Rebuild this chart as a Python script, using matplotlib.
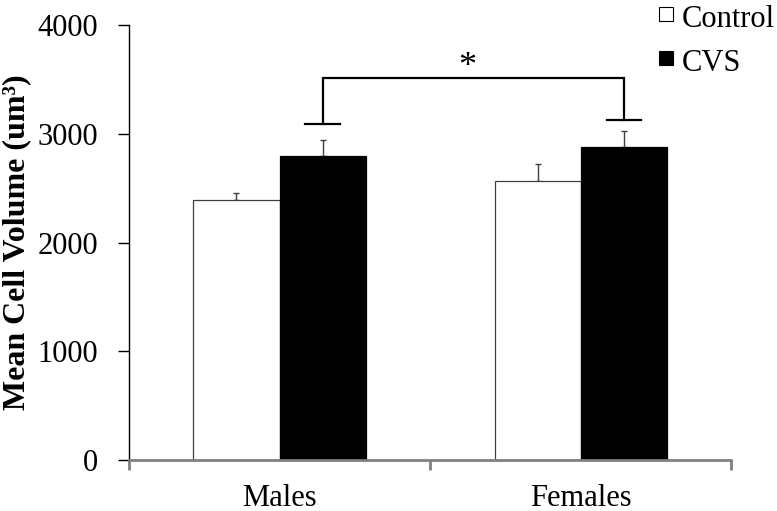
import matplotlib
matplotlib.use("Agg")
import matplotlib.pyplot as plt
import numpy as np
from matplotlib.patches import Rectangle
from matplotlib.ticker import FixedLocator, NullFormatter, FixedFormatter

plt.rcParams["font.family"] = ["Liberation Serif", "DejaVu Serif"]

groups = ["Males", "Females"]
series = ["Control", "CVS"]
control = [2390, 2570]
control_err = [68, 155]
cvs = [2800, 2880]
cvs_err = [147, 142]
yticks = [0, 1000, 2000, 3000, 4000]

# significance bracket (CVS males vs CVS females)
bracket_top = 3510
bracket_feet = [3087, 3126]

W, H = 777, 511
fig = plt.figure(figsize=(W / 100, H / 100), dpi=100)
ax = fig.add_axes([0.166, 0.0998, 0.775, 0.851])

x = np.arange(len(groups))
w = 0.286
ax.bar(x - w / 2, control, w, color="white", edgecolor="#404040", linewidth=0.9, zorder=2)
ax.bar(x + w / 2, cvs, w, color="black", edgecolor="black", linewidth=0.9, zorder=2)
ax.errorbar(x - w / 2, control, yerr=[np.zeros(2), control_err], fmt="none",
            ecolor="#404040", elinewidth=1, capsize=2.5, capthick=1, zorder=1)
ax.errorbar(x + w / 2, cvs, yerr=[np.zeros(2), cvs_err], fmt="none",
            ecolor="#404040", elinewidth=1, capsize=2.5, capthick=1, zorder=1)

# bracket
bx = x + w / 2
cap = 0.057
ax.plot([bx[0], bx[0], bx[1], bx[1]],
        [bracket_feet[0], bracket_top, bracket_top, bracket_feet[1]],
        color="black", lw=1.6, solid_joinstyle="miter", clip_on=False)
for xi, yi in zip(bx, bracket_feet):
    ax.plot([xi - cap, xi + cap], [yi, yi], color="black", lw=1.6, clip_on=False)
ax.text(0.625, 3460, "*", ha="center", va="bottom", fontsize=26)

ax.set_xlim(-0.5, 1.5)
ax.set_ylim(0, 4000)
ax.set_yticks(yticks)
ax.tick_params(axis="y", direction="out", length=8, width=1, color="black",
               labelsize=22, pad=14)
ax.xaxis.set_major_locator(FixedLocator([-0.5, 0.5, 1.5]))
ax.xaxis.set_major_formatter(NullFormatter())
ax.xaxis.set_minor_locator(FixedLocator(x))
ax.xaxis.set_minor_formatter(FixedFormatter(groups))
ax.tick_params(axis="x", which="major", direction="out", length=7, width=2,
               color="#808080")
ax.tick_params(axis="x", which="minor", length=0, labelsize=22, pad=17.5)

for s in ["top", "right"]:
    ax.spines[s].set_visible(False)
ax.spines["left"].set_color("black")
ax.spines["left"].set_linewidth(1)
ax.spines["bottom"].set_color("#808080")
ax.spines["bottom"].set_linewidth(2)

ax.set_ylabel("Mean Cell Volume (um³)", fontsize=23, fontweight="bold", va="center")
ax.yaxis.set_label_coords(-0.187, 0.5)

# legend drawn by hand (small squares, top-right corner)
legend_style = [("white", 7), ("black", 51)]
for name, (fc, top) in zip(series, legend_style):
    fig.add_artist(Rectangle((659 / W, 1 - (top + 14) / H), 14 / W, 14 / H,
                             transform=fig.transFigure, facecolor=fc,
                             edgecolor="black", linewidth=0.8))
    fig.text(682 / W, 1 - (top + 20) / H, name, fontsize=22, va="baseline", ha="left")

fig.savefig("out.png", dpi=100)
